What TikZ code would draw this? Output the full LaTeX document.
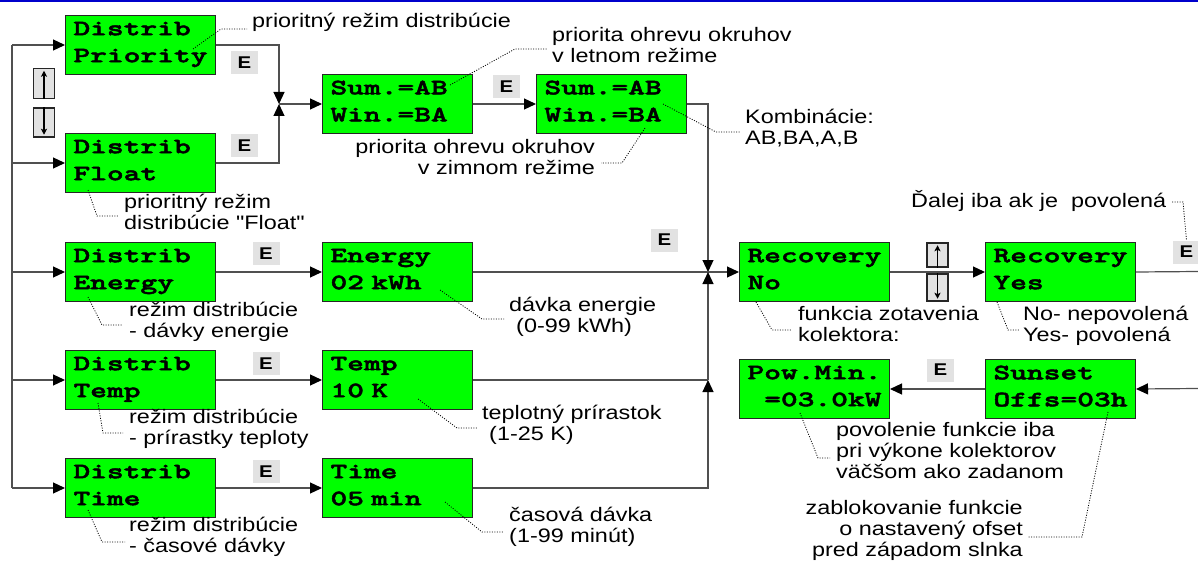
\documentclass[tikz,border=0pt]{standalone}
\usepackage{fontspec}
\usetikzlibrary{arrows.meta,calc}
\newfontfamily\lcdfont{lmmonolt10-bold}[Extension=.otf,FakeStretch=1.45,FakeBold=2.2]
\newfontfamily\annfont{Liberation Sans}[FakeStretch=1.2]
\definecolor{lcdgreen}{RGB}{0,255,0}
\definecolor{lnclr}{RGB}{80,80,80}
\definecolor{egray}{RGB}{226,226,226}
\definecolor{topblue}{RGB}{0,0,204}
\newcommand\lcdstrut{\rule[-6pt]{0pt}{17pt}}
\newcommand\annstrut{\rule[-5pt]{0pt}{18pt}}
\newcommand\annsetup{\annfont\fontsize{19.5}{21.3}\selectfont\setlength{\lineskiplimit}{-50pt}}
\begin{document}
\begin{tikzpicture}[x=1pt,y=-1pt,
  lcd/.style={draw=black!85, line width=1pt, fill=lcdgreen, anchor=north west,
    minimum width=150pt, minimum height=59pt, text width=134pt, inner xsep=8pt,
    inner ysep=0pt, align=left, font=\lcdfont\fontsize{22}{27}\selectfont},
  ln/.style={lnclr, line width=1.2pt},
  arr/.style={lnclr, line width=1.2pt, -{Triangle[length=12pt,width=11pt,color=black]}},
  ebox/.style={fill=egray, minimum width=27pt, minimum height=23pt, inner sep=0pt,
    font=\annfont\bfseries\fontsize{17}{17}\selectfont},
  btn/.style={draw=black!85, line width=1.5pt, fill=egray, minimum width=21pt, inner sep=0pt},
  btnarr/.style={black, line width=1.2pt, -{Stealth[length=6pt,width=6pt,inset=1.5pt]}},
  ann/.style={inner sep=0pt, align=left, anchor=north west, font=\annsetup},
  annr/.style={ann, align=right, anchor=north east},
  lead/.style={black, line width=0.8pt, dash pattern=on 1pt off 1.5pt}
]
\useasboundingbox (0,0) rectangle (1198,564);
\clip (0,0) rectangle (1198,564);
\draw[topblue, line width=1.5pt] (0,1) -- (1198,1);

% LCD boxes
\node[lcd] (dp)  at (65,15)  {\lcdstrut Distrib\\\lcdstrut Priority};
\node[lcd] (df)  at (65,133) {\lcdstrut Distrib\\\lcdstrut Float};
\node[lcd] (de)  at (65,242) {\lcdstrut Distrib\\\lcdstrut Energy};
\node[lcd] (dt)  at (65,350) {\lcdstrut Distrib\\\lcdstrut Temp};
\node[lcd] (dti) at (65,458) {\lcdstrut Distrib\\\lcdstrut Time};
\node[lcd] (s1)  at (322,74) {\lcdstrut Sum.=AB\\\lcdstrut Win.=BA};
\node[lcd] (s2)  at (536,74) {\lcdstrut Sum.=AB\\\lcdstrut Win.=BA};
\node[lcd] (en)  at (322,242) {\lcdstrut Energy\\\lcdstrut 02 kWh};
\node[lcd] (te)  at (322,350) {\lcdstrut Temp\\\lcdstrut 10 K};
\node[lcd] (ti)  at (322,458) {\lcdstrut Time\\\lcdstrut 05 min};
\node[lcd] (rn)  at (739,242) {\lcdstrut Recovery\\\lcdstrut No};
\node[lcd] (ry)  at (985,242) {\lcdstrut Recovery\\\lcdstrut Yes};
\node[lcd] (pm)  at (739,359) {\lcdstrut Pow.Min.\\\lcdstrut\hspace*{16.7pt}=03.0kW};
\node[lcd] (ss)  at (985,359) {\lcdstrut Sunset\\\lcdstrut Offs=03h};

% left trunk
\coordinate (tr) at (12,0);
\draw[ln] (dp.west -| tr) -- (dti.west -| tr);
\foreach \n in {dp,df,de,dt,dti} \draw[arr] (\n.west -| tr) -- (\n.west);

% junctions and connectors
\coordinate (J1) at ([xshift=-43pt]s1.west);
\draw[arr] (dp.east) -| (J1);
\draw[arr] (df.east) -| (J1);
\draw[arr] (J1) -- (s1.west);
\draw[arr] (s1.east) -- (s2.west);
\coordinate (J2) at ([xshift=-31pt]rn.west);
\draw[arr] (s2.east) -| (J2);
\draw[arr] (de.east) -- (en.west);
\draw[ln] (en.east) -- (J2);
\draw[arr] (J2) -- (rn.west);
\draw[arr] (dt.east) -- (te.west);
\draw[arr] (dti.east) -- (ti.west);
\coordinate (J3) at (te.east -| J2);
\draw[ln] (te.east) -- (J3);
\draw[arr] (J3) -- (J2);
\draw[arr] (ti.east) -| (J3);
\draw[arr] (rn.east) -- (ry.west);
\coordinate (R1) at (1198,271.5);
\draw[ln] (ry.east) -- (R1);
\coordinate (R2) at (1198,388.5);
\draw[arr] (R2) -- (ss.east);
\draw[arr] (ss.west) -- (pm.east);

% E keys
\node[ebox] (e1) at (244.5,62.5) {E};
\node[ebox] (e2) at (244.5,146) {E};
\node[ebox] (e3) at (506.5,86.5) {E};
\node[ebox] (e4) at (664.5,240) {E};
\node[ebox] (e5) at (266,253.5) {E};
\node[ebox] (e6) at (266,363.5) {E};
\node[ebox] (e7) at (266,471.5) {E};
\node[ebox] (e8) at (1186.5,252) {E};
\node[ebox] (e9) at (940.5,370) {E};

% up/down keys
\node[btn, minimum height=30pt] (u1) at (44,83.5) {};
\node[btn, minimum height=29pt] (d1) at (44,122.5) {};
\draw[btnarr] (u1.south) -- ([yshift=-3pt]u1.north);
\draw[btnarr] (d1.north) -- ([yshift=3pt]d1.south);
\node[btn, minimum height=24pt] (u2) at (937.5,255) {};
\node[btn, minimum height=27pt] (d2) at (937.5,287.5) {};
\draw[btnarr] (u2.south) -- ([yshift=-3pt]u2.north);
\draw[btnarr] (d2.north) -- ([yshift=3pt]d2.south);

% annotations
\node[ann]  (a1)  at (252,13)  {\annstrut prioritný režim distribúcie};
\node[ann]  (a2)  at (552,27)  {\annstrut priorita ohrevu okruhov\\v letnom režime};
\node[annr] (a3)  at (595,139) {\annstrut priorita ohrevu okruhov\\v zimnom režime};
\node[ann]  (a4)  at (745,109) {\annstrut Kombinácie:\\AB,BA,A,B};
\node[ann]  (a5)  at (124,194) {\annstrut prioritný režim\\distribúcie "Float"};
\node[ann]  (a6)  at (129,302) {\annstrut režim distribúcie\\- dávky energie};
\node[ann]  (a7)  at (129,409) {\annstrut režim distribúcie\\- prírastky teploty};
\node[ann]  (a8)  at (129,517) {\annstrut režim distribúcie\\- časové dávky};
\node[ann]  (a9)  at (509,297) {\annstrut dávka energie\\\hspace*{7pt}(0-99 kWh)};
\node[ann]  (a10) at (482,405) {\annstrut teplotný prírastok\\\hspace*{7pt}(1-25 K)};
\node[ann]  (a11) at (509,507) {\annstrut časová dávka\\(1-99 minút)};
\node[ann]  (a12) at (798,306) {\annstrut funkcia zotavenia\\kolektora:};
\node[ann]  (a13) at (1023,306) {\annstrut No- nepovolená\\Yes- povolená};
\node[ann]  (a14) at (911,190) {\annstrut Ďalej iba ak je~ povolená};
\node[ann]  (a15) at (836,422) {\annstrut povolenie funkcie iba\\pri výkone kolektorov\\väčšom ako zadanom};
\node[annr] (a16) at (1023,500) {\annstrut zablokovanie funkcie\\o nastavený ofset\\pred západom slnka};

% leader lines
\draw[lead] ([shift={(128,34)}]dp.north west) -- (221,29) -- (247,29);
\draw[lead] ([shift={(128,11)}]s1.north west) -- (515,49) -- (547,49);
\draw[lead] ([shift={(109,54)}]s2.north west) -- (622,163) -- (601,163);
\draw[lead] ([shift={(127,30)}]s2.north west) -- (716,132) -- (740,132);
\draw[lead] ([shift={(23,57)}]df.north west) -- (97,216) -- (118,216);
\draw[lead] ([shift={(23,55)}]de.north west) -- (102,325) -- (123,325);
\draw[lead] ([shift={(33,53)}]dt.north west) -- (103,433) -- (123,433);
\draw[lead] ([shift={(23,52)}]dti.north west) -- (102,542) -- (125,542);
\draw[lead] ([shift={(118,48)}]en.north west) -- (482,319) -- (504,319);
\draw[lead] ([shift={(96,49)}]te.north west) -- (457,428) -- (477,428);
\draw[lead] ([shift={(123,44)}]ti.north west) -- (482,532) -- (504,532);
\draw[lead] ([shift={(17,60)}]rn.north west) -- (772,330) -- (792,330);
\draw[lead] ([shift={(12,60)}]ry.north west) -- (1008,330) -- (1020,330);
\draw[lead] (1172,202) -- (1183,202) -- (e8.north);
\draw[lead] ([shift={(61,54)}]pm.north west) -- (818,458) -- (830,458);
\draw[lead] ([shift={(123,53)}]ss.north west) -- (1082,537) -- (1028,537);
\end{tikzpicture}
\end{document}
